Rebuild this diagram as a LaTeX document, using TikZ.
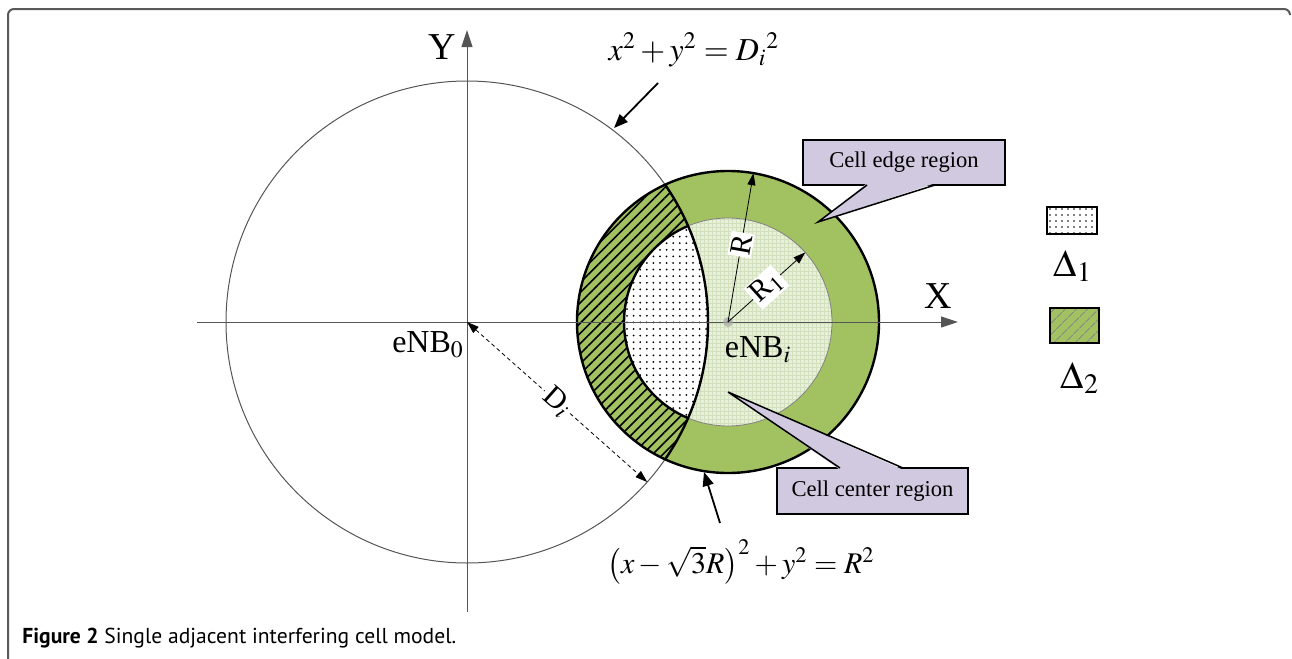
\documentclass[tikz,border=0pt]{standalone}
\usepackage{mathptmx}
\usepackage{fontspec}
\setmainfont{Liberation Serif}
\newfontfamily\capfont{PT Sans}
\usetikzlibrary{arrows.meta,patterns.meta,calc}
\definecolor{cellgreen}{HTML}{A2C262}
\definecolor{cellpale}{HTML}{E8EFDA}
\definecolor{gridpale}{HTML}{D3E0BE}
\definecolor{calloutfill}{HTML}{D0C9E0}
\definecolor{axisgray}{HTML}{555555}
\definecolor{framegray}{HTML}{5A5A5A}
\tikzset{
  thinline/.style ={draw=axisgray,line width=0.5pt},
  boldline/.style ={draw=black,line width=1.2pt},
  axis/.style     ={thinline,-{Triangle[length=8.5pt,width=5.5pt]}},
  eqarr/.style    ={draw=black,line width=0.9pt,-{Triangle[length=7pt,width=5.5pt]}},
  rarr/.style     ={draw=black,line width=0.4pt,-{Triangle[length=6pt,width=4pt]}},
  darr/.style     ={draw=black,line width=0.4pt,dash pattern=on 2pt off 1.5pt,{Triangle[length=6pt,width=4pt]}-{Triangle[length=6pt,width=4pt]}},
  rlab/.style     ={fill=white,inner sep=1pt,font=\fontsize{15}{16}\selectfont},
  big/.style      ={inner sep=0pt,font=\fontsize{19}{20}\selectfont},
  mid/.style      ={inner sep=0pt,font=\fontsize{16}{18}\selectfont},
  callout/.style  ={draw=black,fill=calloutfill,line width=0.75pt,inner sep=0pt,font=\fontsize{11.3}{13}\selectfont},
  callfill/.style ={fill=calloutfill},
  callline/.style ={draw=black,line width=0.75pt},
  legbox/.style   ={draw=black,line width=1.2pt,inner sep=0pt},
}

\begin{document}
\begin{tikzpicture}[x=0.5pt,y=-0.5pt]
  \useasboundingbox (0,0) rectangle (1292,659);
  \draw[framegray,line width=1pt,rounded corners=3pt] (8,662) -- (8,9) -- (1290,9) -- (1290,14);

  \coordinate (o) at (467,322);
  \coordinate (c) at (728,322);

  \fill[cellgreen] (c) circle[radius=151];
  \fill[cellpale] (c) circle[radius=104];
  \fill[pattern={Hatch[angle=0,distance=2pt,line width=0.25pt]},pattern color=gridpale] (c) circle[radius=104];
  \begin{scope}
    \clip (o) circle[radius=241];
    \fill[pattern={Lines[angle=45,distance=3.6pt,line width=0.8pt]}] (c) circle[radius=151];
    \fill[white] (c) circle[radius=104];
    \fill[pattern={Dots[distance=3.3pt,radius=0.5pt]}] (c) circle[radius=104];
  \end{scope}

  \draw[thinline] (o) circle[radius=241];
  \draw[draw=gray,line width=0.4pt] (c) circle[radius=104];
  \draw[boldline] (c) circle[radius=151];
  \begin{scope}
    \clip (o) circle[radius=241];
    \draw[boldline] (c) circle[radius=104];
  \end{scope}
  \begin{scope}
    \clip (c) circle[radius=151];
    \draw[boldline] (o) circle[radius=241];
  \end{scope}

  \coordinate (xl) at (197,322);
  \coordinate (xr) at (958,322);
  \coordinate (yb) at (467,612);
  \coordinate (yt) at (467,30);
  \draw[axis] (xl) -- (xr);
  \draw[axis] (yb) -- (yt);
  \node[big] (X) at (938,296) {X};
  \node[big] (Y) at (442,47) {Y};
  \node[mid] (nb0) at (428,345) {eNB$_0$};
  \node[mid] (nbi) at (758,350) {eNB$_i$};

  \node[callout,minimum width=101pt,minimum height=22.5pt] (edge) at (904,162.5) {Cell edge region};
  \coordinate (edgetip) at (818,222);
  \fill[callfill] (867,183.2) -- (edgetip) -- (935,183.2) -- cycle;
  \draw[callline] (867,185) -- (edgetip) -- (935,185);

  \node[callout,minimum width=95.5pt,minimum height=23pt] (center) at (872.5,491) {Cell center region};
  \coordinate (centertip) at (728,392);
  \fill[callfill] (840,469.8) -- (centertip) -- (903,469.8) -- cycle;
  \draw[callline] (840,468) -- (centertip) -- (903,468);

  \fill[gray!70,opacity=0.7] (c) circle[radius=5];
  \coordinate (tR) at ($(c)+(-80.3:151)$);
  \coordinate (tR1) at ($(c)+(-42:104)$);
  \coordinate (tD) at ($(o)+(41.6:241)$);
  \draw[rarr] (c) -- node[rlab,rotate=80,pos=0.52] {R} (tR);
  \draw[rarr] (c) -- node[rlab,rotate=42] {R$_1$} (tR1);
  \draw[darr] (o) -- node[rlab,rotate=-41.6] {D$_i$} (tD);

  \node[mid] (eqD) at (694,50) {$x^2+y^2={D_i}^2$};
  \coordinate (sD) at (658,83);
  \coordinate (pD) at (614,128);
  \draw[eqarr] (sD) -- (pD);
  \node[mid,font=\fontsize{15}{17}\selectfont] (eqR) at (741,562) {$\left(x-\sqrt{3}R\right)^2+y^2=R^2$};
  \coordinate (sR) at (720,523);
  \coordinate (pR) at (704,472);
  \draw[eqarr] (sR) -- (pR);

  \node[legbox,minimum width=25pt,minimum height=13.5pt,preaction={fill=white},pattern={Dots[distance=3pt,radius=0.45pt]}] (leg1) at (1072,220.5) {};
  \node[big] (d1) at (1073,266) {$\Delta_1$};
  \node[legbox,minimum width=24.5pt,minimum height=17.5pt,preaction={fill=cellgreen},pattern={Lines[angle=45,distance=4pt,line width=0.6pt]},pattern color=gray] (leg2) at (1074.5,325.5) {};
  \node[big] (d2) at (1080,378) {$\Delta_2$};

  \node[anchor=base west,inner sep=0pt,font=\capfont\fontsize{10.8}{12}\selectfont] (cap) at (22,643) {\textbf{Figure 2} Single adjacent interfering cell model.};
\end{tikzpicture}
\end{document}
